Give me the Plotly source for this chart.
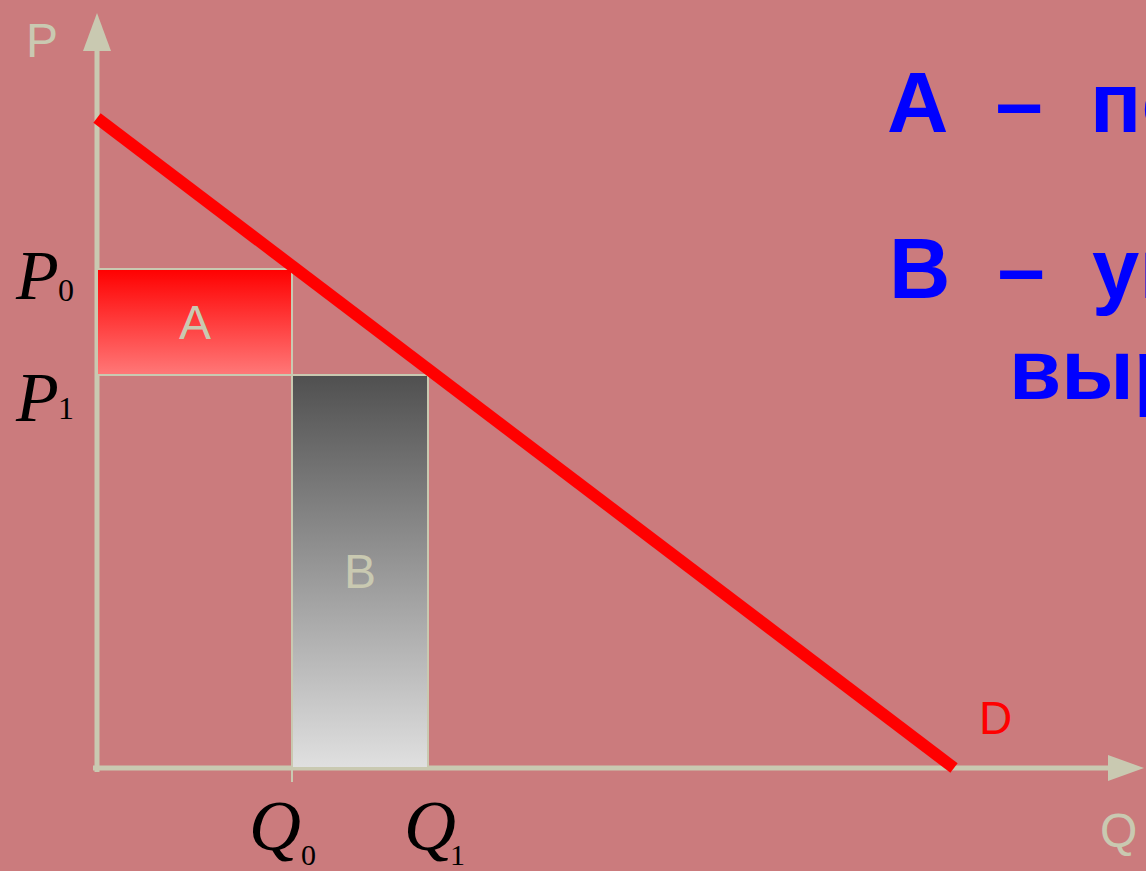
import plotly.graph_objects as go

# demand curve D (price intercept, quantity intercept)
demand_q = [0, 8.57]
demand_p = [6.5, 0]

# price / quantity before and after the price cut
q_points = [1.95, 3.31]
p_points = [4.99, 3.93]
q_labels = ["Q", "Q"]
p_labels = ["P", "P"]
subscripts = ["0", "1"]

# label placement
p_label_y = [4.93, 3.71]
p_sub_y = [4.78, 3.60]
q_label_x = [1.78, 3.33]
q_sub_x = [2.11, 3.60]

notes = ["А\u00a0\u00a0–\u00a0\u00a0потери выручки",
         "В\u00a0\u00a0–\u00a0\u00a0увеличение",
         "выручки"]
note_x = [7.88, 7.90, 9.10]
note_y = [6.66, 5.00, 3.99]

bg = "#cb7b7d"
axis_col = "#c9c9b1"
x_range = [-0.97, 10.49]
y_range = [-1.03, 7.68]
y_tip, x_tip = 7.55, 10.47

q0, q1 = q_points
p0, p1 = p_points

fig = go.Figure()

# area A: revenue lost on the price cut
fig.add_trace(go.Scatter(
    x=[0, q0, q0, 0, 0], y=[p1, p1, p0, p0, p1],
    mode="lines", fill="toself",
    line=dict(color=axis_col, width=2),
    fillgradient=dict(type="vertical",
                      colorscale=[[0, "#ff7878"], [1, "#ff0000"]]),
    hoverinfo="skip", showlegend=False))

# area B: revenue gained from extra sales
fig.add_trace(go.Scatter(
    x=[q0, q1, q1, q0, q0], y=[0, 0, p1, p1, 0],
    mode="lines", fill="toself",
    line=dict(color=axis_col, width=2),
    fillgradient=dict(type="vertical",
                      colorscale=[[0, "#e0e0e0"], [1, "#505050"]]),
    hoverinfo="skip", showlegend=False))

# demand line
fig.add_trace(go.Scatter(
    x=demand_q, y=demand_p, mode="lines",
    line=dict(color="#ff0000", width=12),
    hoverinfo="skip", showlegend=False))

# axes with arrow heads
fig.add_shape(type="line", x0=0, y0=-0.04, x1=0, y1=y_tip - 0.3,
              line=dict(color=axis_col, width=5), layer="below")
fig.add_shape(type="line", x0=-0.04, y0=0, x1=x_tip - 0.3, y1=0,
              line=dict(color=axis_col, width=5), layer="below")
fig.add_shape(type="path",
              path=f"M -0.14 {y_tip - 0.38} L 0 {y_tip} L 0.14 {y_tip - 0.38} Z",
              fillcolor=axis_col, line=dict(width=0), layer="below")
fig.add_shape(type="path",
              path=f"M {x_tip - 0.36} -0.13 L {x_tip} 0 L {x_tip - 0.36} 0.13 Z",
              fillcolor=axis_col, line=dict(width=0), layer="below")
# small tick under Q0
fig.add_shape(type="line", x0=q0, y0=0, x1=q0, y1=-0.14,
              line=dict(color=axis_col, width=2))

sans = "Liberation Sans, Arial, sans-serif"
serif = "Liberation Serif, Times New Roman, serif"

fig.add_annotation(x=-0.55, y=7.28, text="P", showarrow=False,
                   font=dict(family=sans, size=48, color=axis_col))
fig.add_annotation(x=10.21, y=-0.62, text="Q", showarrow=False,
                   font=dict(family=sans, size=48, color=axis_col))
fig.add_annotation(x=8.98, y=0.50, text="D", showarrow=False,
                   font=dict(family=sans, size=46, color="#ff0000"))
fig.add_annotation(x=q0 / 2, y=(p0 + p1) / 2, text="A", showarrow=False,
                   font=dict(family=sans, size=48, color=axis_col))
fig.add_annotation(x=(q0 + q1) / 2, y=p1 / 2, text="B", showarrow=False,
                   font=dict(family=sans, size=48, color=axis_col))

for i in range(2):
    fig.add_annotation(x=-0.60, y=p_label_y[i], text=f"<i>{p_labels[i]}</i>",
                       showarrow=False,
                       font=dict(family=serif, size=70, color="black"))
    fig.add_annotation(x=-0.31, y=p_sub_y[i], text=subscripts[i],
                       showarrow=False,
                       font=dict(family=serif, size=32, color="black"))
    fig.add_annotation(x=q_label_x[i], y=-0.58, text=f"<i>{q_labels[i]}</i>",
                       showarrow=False,
                       font=dict(family=serif, size=72, color="black"))
    fig.add_annotation(x=q_sub_x[i], y=-0.86, text=subscripts[i],
                       showarrow=False,
                       font=dict(family=serif, size=30, color="black"))

for txt, nx, ny in zip(notes, note_x, note_y):
    fig.add_annotation(x=nx, y=ny, text=f"<b>{txt}</b>", showarrow=False,
                       xanchor="left",
                       font=dict(family=sans, size=85, color="#0000ff"))

fig.update_layout(
    width=1146, height=871,
    margin=dict(l=0, r=0, t=0, b=0),
    paper_bgcolor=bg, plot_bgcolor=bg,
    xaxis=dict(range=x_range, visible=False, fixedrange=True),
    yaxis=dict(range=y_range, visible=False, fixedrange=True),
)

fig.write_html("out.html",
               config={"displayModeBar": False},
               post_script="document.body.style.margin='0';"
                           "document.body.style.overflow='hidden';")
